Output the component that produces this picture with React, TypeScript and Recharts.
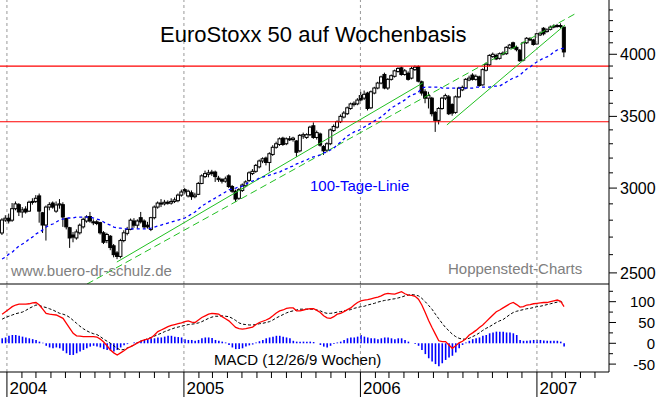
import { Bar, ComposedChart, Line, ReferenceLine, XAxis, YAxis } from "recharts";

// weekly candles, first one is the week starting Monday 2003-12-22
const firstMonday = "2003-12-22";
const lastMonthTick = "2007-05-01";

const open = [
  2724, 2801, 2812, 2800, 2870, 2895, 2850, 2868, 2855, 2910,
  2915, 2950, 2845, 2771, 2880, 2905, 2855, 2893, 2895, 2810,
  2755, 2712, 2695, 2725, 2760, 2795, 2822, 2790, 2790, 2785,
  2725, 2680, 2705, 2650, 2610, 2590, 2680, 2722, 2745, 2795,
  2770, 2815, 2795, 2770, 2745, 2815, 2880, 2905, 2900, 2910,
  2905, 2915, 2920, 2955, 2990, 2950, 2970, 2945, 2960, 3030,
  3075, 3090, 3105, 3105, 3065, 3055, 3045, 3080, 3010, 2980,
  2935, 2985, 3015, 3050, 3095, 3110, 3140, 3180, 3200, 3170,
  3225, 3275, 3295, 3340, 3300, 3335, 3330, 3320, 3250, 3355,
  3345, 3365, 3430, 3345, 3370, 3280, 3255, 3300, 3395, 3420,
  3460, 3495, 3520, 3560, 3590, 3595, 3660, 3640, 3680, 3565,
  3680, 3720, 3760, 3830, 3720, 3790, 3815, 3855, 3885, 3830,
  3840, 3800, 3870, 3895, 3770, 3690, 3640, 3640, 3530, 3470,
  3560, 3640, 3650, 3590, 3530, 3650, 3705, 3720, 3785, 3825,
  3790, 3810, 3745, 3865, 3910, 3980, 3990, 3965, 4010, 4005,
  4055, 4100, 4060, 4035, 3950, 4100, 4135, 4125, 4090, 4170,
  4230, 4200, 4220, 4240, 4250, 4255, 4240,
];
const high = [
  2812, 2830, 2840, 2905, 2915, 2905, 2880, 2885, 2920, 2935,
  2955, 2965, 2850, 2890, 2910, 2915, 2915, 2930, 2910, 2815,
  2760, 2730, 2745, 2780, 2815, 2830, 2850, 2805, 2800, 2790,
  2735, 2725, 2712, 2660, 2620, 2690, 2740, 2760, 2810, 2812,
  2805, 2850, 2805, 2790, 2820, 2890, 2915, 2930, 2925, 2922,
  2935, 2940, 2965, 2990, 3000, 2990, 2985, 2970, 3040, 3090,
  3115, 3120, 3120, 3115, 3080, 3065, 3075, 3090, 3020, 2990,
  3000, 3030, 3050, 3110, 3125, 3160, 3190, 3205, 3210, 3240,
  3290, 3315, 3345, 3350, 3345, 3355, 3350, 3325, 3370, 3380,
  3375, 3430, 3455, 3395, 3380, 3290, 3310, 3410, 3440, 3470,
  3515, 3540, 3575, 3605, 3615, 3640, 3690, 3700, 3690, 3700,
  3730, 3770, 3820, 3845, 3800, 3830, 3870, 3890, 3895, 3875,
  3855, 3895, 3905, 3905, 3780, 3710, 3690, 3650, 3540, 3570,
  3650, 3675, 3665, 3600, 3660, 3730, 3740, 3800, 3820, 3840,
  3830, 3820, 3880, 3930, 4000, 4015, 4005, 4015, 4025, 4070,
  4090, 4110, 4075, 4045, 4110, 4150, 4150, 4135, 4190, 4200,
  4240, 4230, 4255, 4265, 4270, 4275, 4245,
];
const low = [
  2712, 2790, 2780, 2790, 2860, 2825, 2815, 2840, 2850, 2895,
  2905, 2785, 2724, 2680, 2860, 2870, 2845, 2870, 2760, 2745,
  2638, 2670, 2685, 2715, 2750, 2785, 2785, 2770, 2770, 2715,
  2660, 2665, 2625, 2585, 2575, 2580, 2670, 2710, 2740, 2755,
  2750, 2780, 2750, 2750, 2735, 2805, 2870, 2880, 2890, 2895,
  2895, 2905, 2910, 2945, 2960, 2940, 2925, 2935, 2955, 3025,
  3065, 3070, 3080, 3040, 3040, 3030, 3035, 3000, 2970, 2912,
  2925, 2975, 3005, 3040, 3085, 3100, 3130, 3165, 3150, 3110,
  3215, 3265, 3285, 3285, 3290, 3320, 3315, 3208, 3240, 3335,
  3335, 3355, 3335, 3330, 3280, 3222, 3240, 3290, 3385, 3410,
  3450, 3485, 3510, 3550, 3575, 3585, 3615, 3625, 3545, 3555,
  3670, 3710, 3750, 3710, 3705, 3780, 3805, 3845, 3820, 3820,
  3780, 3790, 3860, 3765, 3660, 3600, 3560, 3500, 3385, 3440,
  3550, 3625, 3510, 3505, 3520, 3640, 3695, 3710, 3775, 3780,
  3780, 3730, 3740, 3855, 3900, 3970, 3950, 3955, 3990, 3995,
  4045, 4045, 4025, 3935, 3940, 4090, 4115, 4075, 4085, 4160,
  4165, 4190, 4210, 4230, 4235, 4230, 3975,
];
const close = [
  2801, 2812, 2795, 2870, 2900, 2850, 2862, 2850, 2910, 2915,
  2935, 2855, 2771, 2880, 2895, 2880, 2893, 2900, 2819, 2760,
  2695, 2700, 2730, 2770, 2805, 2820, 2795, 2785, 2780, 2725,
  2670, 2715, 2640, 2600, 2590, 2680, 2725, 2745, 2800, 2770,
  2795, 2790, 2760, 2760, 2815, 2880, 2905, 2900, 2910, 2905,
  2915, 2925, 2955, 2975, 2975, 2980, 2945, 2955, 3030, 3080,
  3095, 3100, 3095, 3075, 3055, 3045, 3060, 3010, 2980, 2930,
  2990, 3020, 3040, 3100, 3110, 3150, 3180, 3195, 3170, 3230,
  3275, 3300, 3335, 3295, 3335, 3330, 3340, 3240, 3360, 3365,
  3365, 3420, 3345, 3380, 3290, 3250, 3300, 3400, 3425, 3460,
  3500, 3525, 3565, 3595, 3600, 3625, 3626, 3670, 3560, 3690,
  3720, 3760, 3810, 3720, 3790, 3820, 3860, 3880, 3830, 3860,
  3790, 3880, 3890, 3775, 3680, 3640, 3660, 3520, 3470, 3560,
  3640, 3660, 3520, 3525, 3650, 3720, 3725, 3790, 3800, 3790,
  3815, 3740, 3870, 3915, 3990, 4000, 3960, 4005, 4005, 4060,
  4080, 4055, 4040, 3945, 4100, 4140, 4125, 4085, 4180, 4185,
  4180, 4215, 4240, 4250, 4255, 4245, 4020,
];
// 100-Tage-Linie
const ma100 = [
  2576, 2587, 2603, 2614, 2632, 2649, 2660, 2671, 2689, 2700,
  2718, 2729, 2742, 2759, 2771, 2777, 2789, 2801, 2807, 2813,
  2813, 2813, 2819, 2819, 2819, 2819, 2819, 2813, 2807, 2801,
  2789, 2777, 2771, 2759, 2753, 2753, 2748, 2748, 2748, 2748,
  2748, 2748, 2748, 2748, 2753, 2759, 2765, 2771, 2777, 2783,
  2789, 2795, 2801, 2807, 2813, 2825, 2838, 2850, 2868, 2887,
  2899, 2912, 2924, 2937, 2949, 2962, 2975, 2988, 2994, 3000,
  3007, 3013, 3026, 3039, 3046, 3052, 3066, 3072, 3079, 3085,
  3092, 3099, 3105, 3119, 3126, 3139, 3146, 3160, 3166, 3180,
  3187, 3200, 3208, 3214, 3222, 3236, 3242, 3256, 3270, 3292,
  3312, 3334, 3356, 3370, 3385, 3392, 3406, 3421, 3436, 3450,
  3466, 3481, 3496, 3518, 3541, 3564, 3579, 3595, 3610, 3626,
  3649, 3665, 3673, 3689, 3720, 3728, 3728, 3728, 3728, 3728,
  3720, 3720, 3720, 3720, 3720, 3720, 3720, 3720, 3720, 3720,
  3728, 3728, 3728, 3728, 3728, 3736, 3736, 3736, 3752, 3769,
  3785, 3801, 3810, 3826, 3850, 3876, 3892, 3917, 3934, 3951,
  3968, 3977, 3994, 4020, 4037, 4046, 4054,
];
const macd = [
  70, 76, 82, 88, 92, 94, 94, 94, 95, 97,
  98, 92, 82, 72, 70, 69, 68, 64, 60, 48,
  36, 24, 18, 17, 16, 16, 16, 16, 15, 10,
  3, -6, -16, -23, -28, -23, -18, -12, -8, -4,
  1, 5, 8, 10, 13, 20, 28, 32, 36, 40,
  43, 45, 47, 49, 52, 54, 51, 50, 56, 62,
  66, 70, 72, 71, 70, 64, 59, 54, 46, 38,
  35, 34, 35, 37, 39, 45, 50, 53, 56, 60,
  66, 73, 78, 80, 84, 85, 85, 78, 78, 80,
  82, 83, 83, 79, 74, 66, 61, 60, 64, 70,
  72, 76, 81, 85, 92, 98, 102, 104, 105, 107,
  109, 111, 114, 118, 120, 119, 118, 121, 124, 119,
  116, 115, 113, 106, 92, 74, 55, 38, 22, 6,
  4, 4, -4, -12, -6, 1, 5, 11, 20, 25,
  31, 38, 44, 52, 60, 68, 76, 80, 85, 90,
  95, 98, 93, 87, 88, 92, 93, 95, 96, 97,
  98, 98, 100, 102, 104, 101, 88,
];
const signal = [
  58, 62, 65, 68, 71, 73, 75, 79, 84, 88,
  92, 91, 88, 86, 83, 80, 76, 72, 70, 67,
  62, 55, 48, 41, 35, 30, 26, 23, 21, 16,
  10, 5, 0, -6, -12, -16, -15, -11, -8, -4,
  2, 5, 8, 11, 14, 17, 21, 24, 28, 31,
  34, 37, 39, 41, 43, 45, 46, 47, 49, 52,
  56, 60, 63, 65, 65, 66, 65, 64, 60, 55,
  49, 46, 45, 44, 44, 45, 47, 48, 50, 52,
  56, 61, 65, 69, 73, 76, 78, 80, 82, 82,
  82, 82, 82, 80, 78, 74, 72, 72, 73, 75,
  76, 78, 79, 81, 84, 86, 88, 89, 92, 94,
  96, 99, 101, 103, 104, 106, 107, 109, 111, 114,
  116, 117, 116, 114, 108, 100, 91, 82, 70, 59,
  48, 38, 30, 22, 16, 12, 10, 10, 12, 16,
  20, 25, 31, 36, 40, 45, 50, 54, 57, 63,
  69, 74, 77, 79, 81, 83, 84, 86, 88, 89,
  91, 93, 95, 97, 99, 100, 97,
];
const hist = [
  12, 14, 18, 20, 20, 18, 16, 14, 12, 10,
  8, 4, 1, -6, -10, -12, -10, -12, -18, -24,
  -28, -28, -24, -20, -16, -12, -8, -6, -8, -10,
  -14, -16, -18, -20, -16, -10, -5, -2, 0, 2,
  3, 6, 8, 10, 12, 12, 14, 14, 16, 18,
  18, 16, 15, 14, 10, 8, 8, 6, 8, 12,
  14, 14, 13, 8, 6, 4, 2, -4, -10, -14,
  -14, -12, -8, -5, -3, 2, 5, 8, 12, 14,
  16, 18, 18, 16, 14, 12, 6, 4, 4, 4,
  4, 4, 3, 0, -4, -8, -10, -6, -2, 2,
  4, 8, 12, 14, 14, 16, 20, 16, 14, 12,
  12, 10, 12, 14, 14, 12, 10, 12, 12, 8,
  4, 0, -2, -6, -16, -26, -36, -44, -50, -55,
  -48, -40, -34, -30, -22, -12, -4, 2, 6, 10,
  12, 14, 18, 20, 24, 26, 28, 28, 28, 26,
  26, 24, 20, 8, 6, 6, 7, 8, 8, 8,
  7, 6, 6, 6, 6, 4, -8,
];

// horizontal marks and trend channel (week index, index level)
const redLevels = [3900, 3460];
const trendLines = [
  { from: [33.9, 2559], to: [124.3, 3761], dash: "" },
  { from: [25.1, 2441], to: [169.2, 4362], dash: "7 4" },
  { from: [131.4, 3436], to: [166.3, 4260], dash: "" },
];
const priceTicks = [2500, 2600, 2700, 2800, 2900, 3000, 3100, 3200, 3300, 3400, 3500, 3600, 3700, 3800, 3900, 4000, 4100, 4200, 4300, 4400];
const macdTicks = [-50, -25, 0, 25, 50, 75, 100, 125];

const FONT = '"Liberation Sans", Arial, sans-serif';
const X_DOMAIN: [number, number] = [-0.62, 179.29];

const weekOf = (iso: string) => (Date.parse(iso) - Date.parse(firstMonday)) / (7 * 86400000);

const monthTicks: number[] = [];
const yearAt: { w: number; label: string }[] = [];
for (let y = 2004; y <= 2007; y++) {
  for (let m = 1; m <= 12; m++) {
    const iso = `${y}-${String(m).padStart(2, "0")}-01`;
    if (iso > lastMonthTick) break;
    const w = weekOf(iso);
    monthTicks.push(w);
    if (m === 1) yearAt.push({ w, label: String(y) });
  }
}
const yearLabel = (w: number) => yearAt.find((d) => Math.abs(d.w - w) < 1e-6)?.label;

const priceRows = open.map((o, i) => ({
  w: i,
  open: o,
  high: high[i],
  low: low[i],
  close: close[i],
  range: [low[i], high[i]],
  ma: ma100[i],
}));
const macdRows = macd.map((m, i) => ({ w: i, macd: m, signal: signal[i], hist: hist[i] }));

function Candle(props: any) {
  const { x, y, width, height, payload } = props;
  if (x == null || y == null || !payload) return null;
  const top = Math.min(y, y + height);
  const bottom = Math.max(y, y + height);
  const cx = x + width / 2;
  const lh = Math.log(payload.high);
  const ll = Math.log(payload.low);
  const py = (v: number) => top + ((bottom - top) * (lh - Math.log(v))) / (lh - ll);
  const yo = py(payload.open);
  const yc = py(payload.close);
  const up = payload.close >= payload.open;
  const bt = Math.min(yo, yc);
  const bh = Math.max(Math.abs(yo - yc), 1);
  return (
    <g>
      <line x1={cx} x2={cx} y1={top} y2={bottom} stroke="#000" strokeWidth={1} />
      <rect x={cx - 1.5} y={bt} width={3} height={bh} fill={up ? "#fff" : "#000"} stroke="#000" strokeWidth={1} />
    </g>
  );
}

function PriceTick(props: any) {
  const { x, y, payload } = props;
  const major = payload.value % 500 === 0;
  return (
    <g>
      <line x1={x} x2={x + (major ? 8 : 4)} y1={y} y2={y} stroke="#000" />
      {major && (
        <text x={x + 11} y={y + 6} fontSize={16} fontFamily={FONT} fill="#000">
          {payload.value}
        </text>
      )}
    </g>
  );
}

function MacdTick(props: any) {
  const { x, y, payload } = props;
  const major = payload.value % 50 === 0;
  return (
    <g>
      <line x1={x} x2={x + (major ? 7 : 4)} y1={y} y2={y} stroke="#000" />
      {major && (
        <text x={x + 46} y={y + 5.5} fontSize={15} fontFamily={FONT} fill="#000" textAnchor="end">
          {payload.value}
        </text>
      )}
    </g>
  );
}

function TimeTick(props: any) {
  const { x, y, payload } = props;
  const label = yearLabel(payload.value);
  return (
    <g>
      <line x1={x} x2={x} y1={y} y2={y + (label ? 25 : 6)} stroke="#000" />
      {label && (
        <text x={x + 2.5} y={y + 22} fontSize={17} fontFamily={FONT} fill="#000">
          {label}
        </text>
      )}
    </g>
  );
}

export default function App() {
  return (
    <div style={{ position: "absolute", left: 0, top: 0, width: 660, height: 397, background: "#fff" }}>
      <div style={{ position: "absolute", left: 0, top: 0 }}>
        <ComposedChart width={660} height={285} data={priceRows} margin={{ top: 0, right: 0, bottom: 0, left: 0 }}>
          <XAxis
            dataKey="w"
            type="number"
            domain={X_DOMAIN}
            allowDataOverflow
            ticks={[]}
            tick={false}
            tickLine={false}
            height={1}
            axisLine={{ stroke: "#000" }}
          />
          <YAxis
            orientation="right"
            scale="log"
            domain={[2441, 4495]}
            allowDataOverflow
            ticks={priceTicks}
            interval={0}
            width={51}
            tickSize={0}
            tickMargin={0}
            tickLine={false}
            tick={<PriceTick />}
            axisLine={{ stroke: "#000" }}
          />
          {yearAt.map((d) => (
            <ReferenceLine key={d.label} x={d.w} stroke="#999" strokeDasharray="3 3" />
          ))}
          {redLevels.map((v) => (
            <ReferenceLine key={v} y={v} stroke="#ff0000" strokeWidth={1.2} />
          ))}
          {trendLines.map((t, i) => (
            <ReferenceLine
              key={i}
              segment={[{ x: t.from[0], y: t.from[1] }, { x: t.to[0], y: t.to[1] }]}
              stroke="#22c022"
              strokeDasharray={t.dash || undefined}
              ifOverflow="hidden"
            />
          ))}
          <Line dataKey="ma" stroke="#0000ff" strokeWidth={1.3} strokeDasharray="3 3" dot={false} activeDot={false} isAnimationActive={false} />
          <Bar dataKey="range" barSize={4} shape={<Candle />} isAnimationActive={false} />
        </ComposedChart>
      </div>
      <div style={{ position: "absolute", left: 0, top: 284 }}>
        <ComposedChart width={660} height={113} data={macdRows} margin={{ top: 0, right: 0, bottom: 0, left: 0 }}>
          <XAxis
            dataKey="w"
            type="number"
            domain={X_DOMAIN}
            allowDataOverflow
            ticks={monthTicks}
            interval={0}
            height={25}
            tickSize={0}
            tickMargin={0}
            tickLine={false}
            tick={<TimeTick />}
            axisLine={{ stroke: "#000" }}
          />
          <YAxis
            orientation="right"
            domain={[-69, 142.5]}
            allowDataOverflow
            ticks={macdTicks}
            interval={0}
            width={51}
            tickSize={0}
            tickMargin={0}
            tickLine={false}
            tick={<MacdTick />}
            axisLine={{ stroke: "#000" }}
          />
          {yearAt.map((d) => (
            <ReferenceLine key={d.label} x={d.w} stroke="#999" strokeDasharray="3 3" />
          ))}
          <Bar dataKey="hist" fill="#0000ff" barSize={1.6} isAnimationActive={false} />
          <Line dataKey="signal" stroke="#000" strokeWidth={1} strokeDasharray="3 2" dot={false} activeDot={false} isAnimationActive={false} />
          <Line dataKey="macd" stroke="#ff0000" strokeWidth={1.3} dot={false} activeDot={false} isAnimationActive={false} />
        </ComposedChart>
      </div>
      <svg width={660} height={397} style={{ position: "absolute", left: 0, top: 0, pointerEvents: "none" }}>
        <text x={160} y={42} fontSize={22} fontFamily={FONT} fill="#000">
          EuroStoxx 50 auf Wochenbasis
        </text>
        <text x={310} y={191} fontSize={15} fontFamily={FONT} fill="#0000ff">
          100-Tage-Linie
        </text>
        <text x={11} y={276} fontSize={15} fontFamily={FONT} fill="#808080">
          www.buero-dr-schulz.de
        </text>
        <text x={448} y={273.5} fontSize={15} fontFamily={FONT} fill="#808080">
          Hoppenstedt-Charts
        </text>
        <text x={214} y={365} fontSize={15} fontFamily={FONT} fill="#000">
          MACD (12/26/9 Wochen)
        </text>
      </svg>
    </div>
  );
}
